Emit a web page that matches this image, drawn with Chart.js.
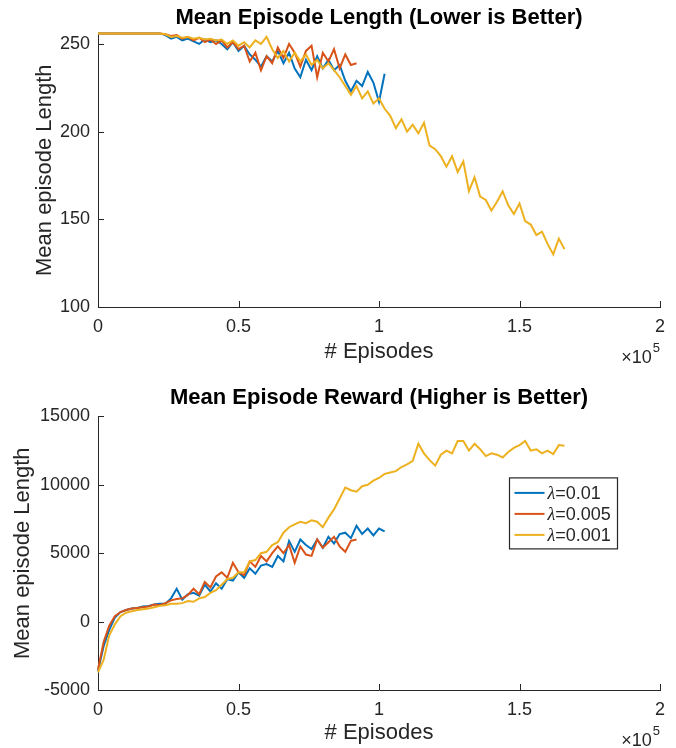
<!DOCTYPE html>
<html>
<head>
<meta charset="utf-8">
<script src="https://cdn.jsdelivr.net/npm/chart.js@4.4.1/dist/chart.umd.min.js"></script>
<style>
body{margin:0;background:#fff}
canvas{display:block}
</style>
</head>
<body>
<canvas id="top" width="676" height="374"></canvas>
<canvas id="bottom" width="676" height="374"></canvas>
<script>
// episodes between samples
const step = 2000
const xTicks = [0, 50000, 100000, 150000, 200000]
const lenTicks = [100, 150, 200, 250]
const rewTicks = [-5000, 0, 5000, 10000, 15000]
const seriesNames = ['λ=0.01', 'λ=0.005', 'λ=0.001']
const colors = ['#0072BD', '#D95319', '#EDB120']

const lenBlue = [256,256,256,256,256,256,256,256,256,256,256,256,
    255,253,254,252,253,251.5,250,252.5,251,252,
    250,247,251,246,249,244,241,237,243,240,
    246,239,245,236,231,241,235,243,236,241,
    235,238,229,223,229,226,234,228,217,233]
const lenOrange = [256,256,256,256,256,256,256,256,256,256,256,256,
    255.5,254.5,255,253,254,252,253.5,251,252.5,250,
    252,248,251,247,249,240,245,235,243,239,
    248,242,250,245,237,246,249,231,245,240,
    247,236,244,238,239]
const lenYellow = [256,256,256,256,256,256,256,256,256,256,256,256,
    255.5,254,254.5,253.5,254,253,253.5,252.5,253,252,
    252.5,250,252,249,251,248,252,250,254,247,
    242,246,240,245,240,244,238,241,236,239,
    235,231,226,221,226,219,223,216,219,213,
    209,202,207,200,204,199,205,192,190,186,
    180,186,177,183,166,174,163,161,155,160,
    166,158,153,159,149,147,141,143,136,130,
    139,133]

const rewBlue = [-3600,-1800,-600,300,700,850,950,1000,1100,1150,1250,1300,
    1300,1700,2400,1600,2000,2100,1900,2700,2200,2800,
    2400,3100,3000,3600,3200,3900,3500,4100,4200,4000,
    4800,4400,5900,5100,6000,5600,5300,6000,5400,6200,
    5700,6400,6500,6100,7000,6400,6800,6300,6800,6600]
const rewOrange = [-3500,-1500,-300,400,700,850,950,1000,1050,1100,1250,1200,
    1350,1550,1650,1700,1950,2400,2000,2900,2500,3300,
    3600,3200,4300,3600,3400,4400,4000,4800,4400,5000,
    5500,5000,5600,4300,5500,4900,4800,6000,5400,5800,
    6200,5500,5100,5900,6000]
const rewYellow = [-3700,-2800,-1000,-200,400,650,750,850,900,950,1050,1150,
    1200,1300,1300,1350,1500,1450,1700,1800,2100,2300,
    2700,3100,3200,3600,3600,4400,4500,5000,5100,5600,
    5800,6500,6900,7100,7300,7200,7400,7300,6900,7600,
    8200,9000,9800,9600,9500,9900,10000,10300,10500,10800,
    10900,11000,11300,11500,11750,13000,12300,11800,11400,12200,
    12500,12300,13200,13200,12500,13000,12600,12100,12300,12200,
    12000,12400,12700,12900,13200,12500,12600,12300,12500,12250,
    12900,12850]

const axisColor = '#262626'
const fontFamily = "'Liberation Sans', Arial, sans-serif"

function toPoints(arr) {
    return arr.map((v, i) => ({x: i * step, y: v}))
}

function makeDatasets(list) {
    return list.map((arr, i) => ({
        label: seriesNames[i],
        data: toPoints(arr),
        borderColor: colors[i],
        backgroundColor: colors[i],
        borderWidth: 2,
        pointRadius: 0,
        tension: 0,
        clip: 4,
        order: 3 - i,
    }))
}

// MATLAB style ticks pointing into the axes
const inwardTicks = {
    id: 'inwardTicks',
    afterDatasetsDraw(chart) {
        const {ctx, chartArea, scales} = chart
        ctx.save()
        ctx.strokeStyle = axisColor
        ctx.lineWidth = 1
        ctx.beginPath()
        scales.x.ticks.forEach(t => {
            const px = Math.round(scales.x.getPixelForValue(t.value)) + 0.5
            ctx.moveTo(px, chartArea.bottom)
            ctx.lineTo(px, chartArea.bottom - 6)
        })
        scales.y.ticks.forEach(t => {
            const py = Math.round(scales.y.getPixelForValue(t.value)) + 0.5
            ctx.moveTo(chartArea.left, py)
            ctx.lineTo(chartArea.left + 6, py)
        })
        ctx.stroke()
        ctx.restore()
    }
}

// the x10^5 multiplier under the x axis
const exponentLabel = {
    id: 'exponentLabel',
    afterDraw(chart) {
        const {ctx, chartArea} = chart
        ctx.save()
        ctx.fillStyle = axisColor
        ctx.textAlign = 'left'
        ctx.textBaseline = 'alphabetic'
        ctx.font = '13px ' + fontFamily
        const w5 = ctx.measureText('5').width
        ctx.font = '18px ' + fontFamily
        const wBase = ctx.measureText('×10').width
        const right = chartArea.right
        const base = chartArea.bottom + 56
        ctx.fillText('×10', right - w5 - wBase - 1, base)
        ctx.font = '13px ' + fontFamily
        ctx.fillText('5', right - w5, base - 11)
        ctx.restore()
    }
}

const boxLegend = {
    id: 'boxLegend',
    afterDraw(chart) {
        if (!chart.options.plugins.boxLegend || !chart.options.plugins.boxLegend.show) return
        const {ctx, chartArea} = chart
        const left = chartArea.right - 150.5
        const top = chartArea.top + 61.5
        const w = 108, h = 71
        ctx.save()
        ctx.fillStyle = '#fff'
        ctx.fillRect(left, top, w, h)
        ctx.strokeStyle = axisColor
        ctx.lineWidth = 1.2
        ctx.strokeRect(left, top, w, h)
        chart.data.datasets.forEach((ds, i) => {
            const y = top + 15 + i * 21
            ctx.strokeStyle = ds.borderColor
            ctx.lineWidth = 2
            ctx.beginPath()
            ctx.moveTo(left + 5, y)
            ctx.lineTo(left + 35, y)
            ctx.stroke()
            ctx.fillStyle = axisColor
            ctx.textBaseline = 'middle'
            ctx.font = 'italic 18px "Liberation Serif", serif'
            ctx.fillText(ds.label[0], left + 38, y + 1)
            const wl = ctx.measureText(ds.label[0]).width
            ctx.font = '18px ' + fontFamily
            ctx.fillText(ds.label.slice(1), left + 38 + wl, y + 1)
        })
        ctx.restore()
    }
}

function makeChart(id, opts) {
    return new Chart(document.getElementById(id), {
        type: 'line',
        data: {datasets: makeDatasets(opts.series)},
        options: {
            responsive: false,
            animation: false,
            layout: {padding: {left: 0, right: 16, top: 0, bottom: 0}},
            plugins: {
                legend: {display: false},
                tooltip: {enabled: false},
                boxLegend: {show: opts.legend},
                title: {
                    display: true,
                    text: opts.title,
                    fullSize: false,
                    color: '#000',
                    font: {family: fontFamily, size: 22, weight: 'bold', lineHeight: 1.2},
                    padding: opts.titlePad,
                },
            },
            scales: {
                x: {
                    type: 'linear',
                    min: 0,
                    max: 200000,
                    afterBuildTicks: s => { s.ticks = xTicks.map(v => ({value: v})) },
                    afterFit: s => { s.height = opts.xHeight },
                    grid: {display: false, drawTicks: false},
                    border: {display: true, color: axisColor, width: 1},
                    ticks: {
                        color: axisColor,
                        padding: 9,
                        maxRotation: 0,
                        font: {family: fontFamily, size: 18},
                        callback: v => String(v / 100000),
                    },
                    title: {
                        display: true,
                        text: '# Episodes',
                        color: axisColor,
                        font: {family: fontFamily, size: 22, lineHeight: 1.2},
                        padding: {top: 0, bottom: opts.xTitlePad},
                    },
                },
                y: {
                    type: 'linear',
                    min: opts.yMin,
                    max: opts.yMax,
                    afterBuildTicks: s => { s.ticks = opts.yTicks.map(v => ({value: v})) },
                    afterFit: s => { s.width = 98 },
                    grid: {display: false, drawTicks: false},
                    border: {display: true, color: axisColor, width: 1},
                    ticks: {
                        color: axisColor,
                        padding: 8,
                        font: {family: fontFamily, size: 18},
                        callback: v => String(v),
                    },
                    title: {
                        display: true,
                        text: 'Mean episode Length',
                        color: axisColor,
                        font: {family: fontFamily, size: 22, lineHeight: 1.2},
                        padding: {top: opts.yTitlePad, bottom: 0},
                    },
                },
            },
        },
        plugins: [inwardTicks, exponentLabel, boxLegend],
    })
}

makeChart('top', {
    series: [lenBlue, lenOrange, lenYellow],
    title: 'Mean Episode Length (Lower is Better)',
    titlePad: {top: 5, bottom: 2},
    xHeight: 67,
    xTitlePad: 9,
    yMin: 100,
    yMax: 256,
    yTicks: lenTicks,
    yTitlePad: 32,
    legend: false,
})

makeChart('bottom', {
    series: [rewBlue, rewOrange, rewYellow],
    title: 'Mean Episode Reward (Higher is Better)',
    titlePad: {top: 11, bottom: 5},
    xHeight: 58,
    xTitlePad: 2,
    yMin: -5000,
    yMax: 15000,
    yTicks: rewTicks,
    yTitlePad: 10,
    legend: true,
})
</script>
</body>
</html>
